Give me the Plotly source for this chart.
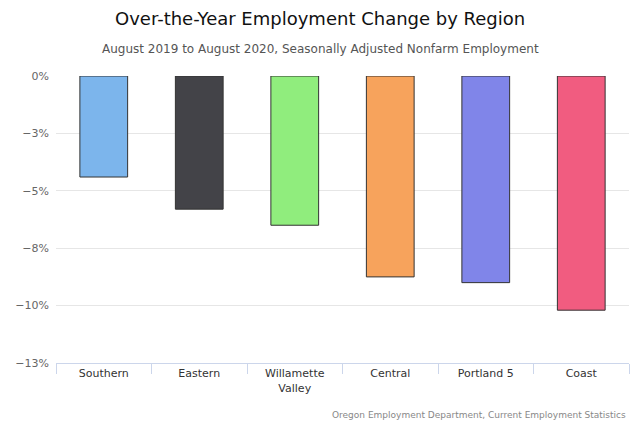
import plotly.graph_objects as go

regions = ["Southern", "Eastern", "Willamette<br>Valley", "Central", "Portland 5", "Coast"]
change = [-4.4, -5.8, -6.5, -8.75, -9.0, -10.2]
colors = ["#7cb5ec", "#434348", "#90ed7d", "#f7a35c", "#8085e9", "#f15c80"]
tick_vals = [0, -2.5, -5, -7.5, -10, -12.5]
tick_text = ["0%", "−3%", "−5%", "−8%", "−10%", "−13%"]

OFF = 8  # page body margin
W, H = 639 - OFF, 426 - OFF
L0, R0, T0, B0 = 56 - OFF, 629 - OFF, 76 - OFF, 363 - OFF
PW, PH = R0 - L0, B0 - T0
def px(x): return (x - OFF - L0) / PW
def py(y): return (B0 - (y - OFF)) / PH

fig = go.Figure(go.Bar(x=regions, y=change, marker=dict(color=colors, line=dict(color="#333333", width=1)),
                       hoverinfo="skip"))
fig.update_layout(
    width=W, height=H, margin=dict(l=L0, r=W - R0, t=T0, b=H - B0),
    paper_bgcolor="white", plot_bgcolor="white", bargap=0.5, showlegend=False,
    font=dict(family="DejaVu Sans", color="#333333"),
)
fig.add_annotation(text="Over-the-Year Employment Change by Region", xref="paper", yref="paper",
                   x=px(320), y=py(18), xanchor="center", yanchor="middle", showarrow=False,
                   font=dict(size=18, color="#111111"))
fig.add_annotation(text="August 2019 to August 2020, Seasonally Adjusted Nonfarm Employment", xref="paper", yref="paper",
                   x=px(320), y=py(49), xanchor="center", yanchor="middle", showarrow=False,
                   font=dict(size=12, color="#555555"))
fig.add_annotation(text="Oregon Employment Department, Current Employment Statistics", xref="paper", yref="paper",
                   x=px(628), y=py(415), xanchor="right", yanchor="middle", showarrow=False,
                   font=dict(size=9, color="#888888"))
fig.update_yaxes(range=[-12.5, 0], tickvals=tick_vals, ticktext=tick_text, showgrid=True, gridcolor="#e6e6e6",
                 zeroline=False, tickfont=dict(size=11, color="#666666"), ticks="", ticklabelstandoff=6,
                 automargin=False)
fig.update_xaxes(tickson="boundaries", ticks="outside", ticklen=10, tickcolor="#ccd6eb", showline=True,
                 linecolor="#ccd6eb", tickfont=dict(size=11, color="#333333"), automargin=False)
fig.write_html("out.html")
